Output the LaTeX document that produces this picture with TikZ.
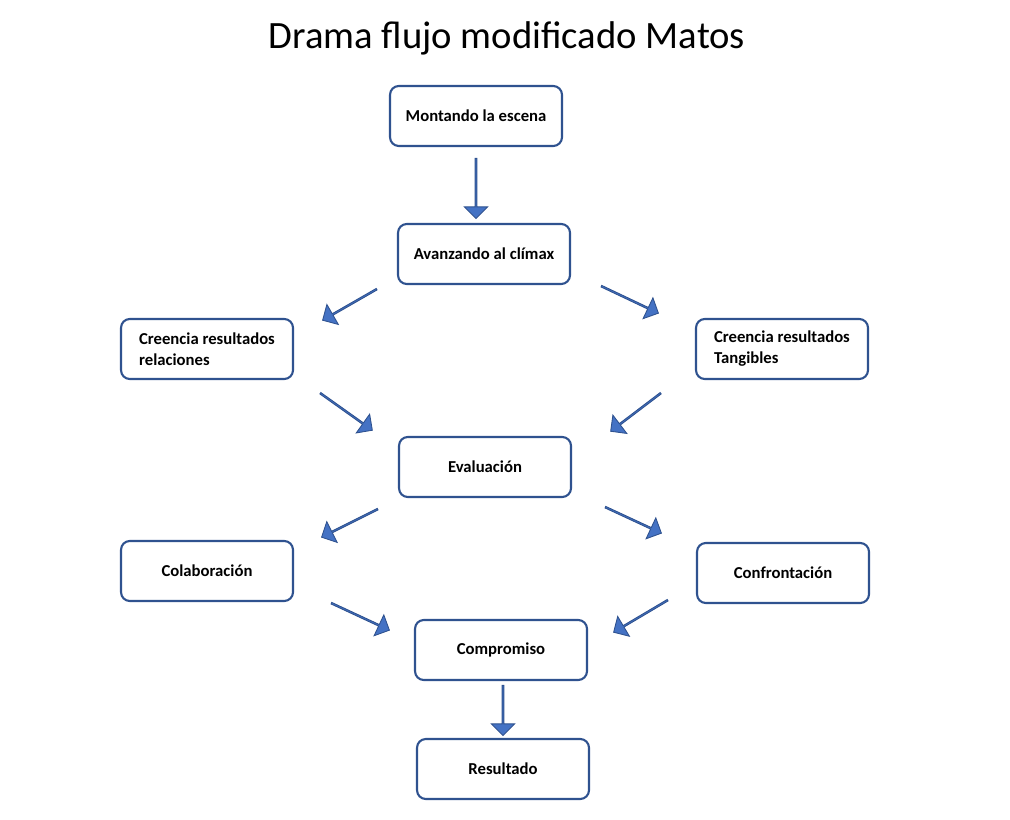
\documentclass[tikz,border=0pt]{standalone}
\usepackage{fontspec}
\setmainfont{Carlito}
\usetikzlibrary{calc,shapes.arrows}
\definecolor{boxblue}{RGB}{47,82,143}
\definecolor{arrowblue}{RGB}{68,114,196}
\tikzset{
  stage/.style={draw=boxblue,line width=1.2pt,rounded corners=5pt,fill=white,
    minimum width=3.44cm,minimum height=1.2cm,align=left,font=\fontsize{9.5}{12}\selectfont\bfseries},
  blockarrow/.style={single arrow,draw=boxblue,fill=arrowblue,line width=0.5pt,inner sep=0pt,
    minimum width=0.46cm,single arrow head extend=0.11cm,single arrow head indent=0pt}
}
\begin{document}
\begin{tikzpicture}[x=0.02cm,y=-0.02cm]
\useasboundingbox (0,0) rectangle (1010,820);
% title
\node[font=\fontsize{22}{26}\selectfont] (title) at (507,38) {Drama flujo modificado Matos};
% stages
\node[stage] (escena) at (476,116) {Montando la escena};
\node[stage] (climax) at (484,254) {Avanzando al clímax};
\node[stage] (relaciones) at (207,349) {Creencia resultados\\relaciones};
\node[stage] (tangibles) at (782,349) {Creencia resultados\\Tangibles};
\node[stage] (evaluacion) at (485,467) {Evaluación};
\node[stage] (colaboracion) at (207,571) {Colaboración};
\node[stage] (confrontacion) at (783,573) {Confrontación};
\node[stage] (compromiso) at (501,650) {Compromiso};
\node[stage] (resultado) at (503,769) {Resultado};
% block arrows
\foreach \ax/\ay/\bx/\by [count=\i] in {476/158/476/218, 377/289/323/320, 601/286/658/313,
    320/393/372/430, 661/393/611/431, 378/509/322/537, 605/507/661/533,
    331/603/389/630, 668/600/614/632, 503/685/503/735}{
  \coordinate (a\i) at (\ax,\ay);
  \coordinate (b\i) at (\bx,\by);
  \path let \p1=($(b\i)-(a\i)$), \n1={atan2(\y1,\x1)}, \n2={veclen(\x1,\y1)} in
    node[blockarrow,rotate=\n1,minimum height=\n2] (arrow\i) at ($(a\i)!0.5!(b\i)$) {};
}
\end{tikzpicture}
\end{document}
